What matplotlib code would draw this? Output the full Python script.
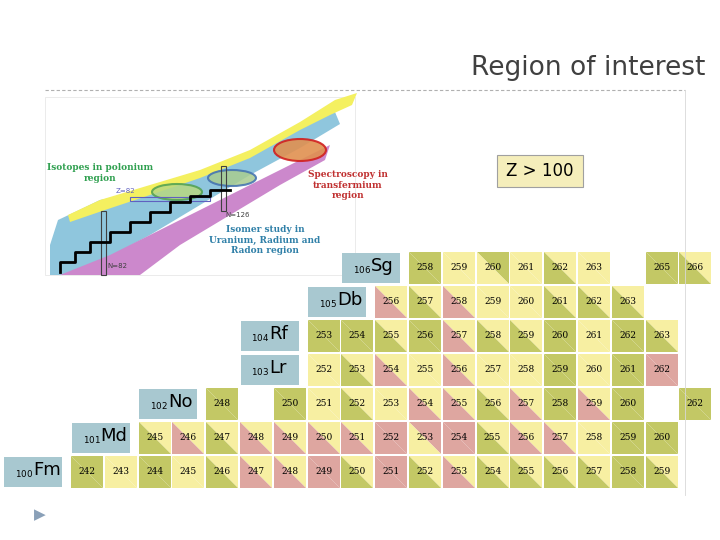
import matplotlib.pyplot as plt
from matplotlib.patches import Polygon, Rectangle, Ellipse

# nuclide chart data: element, Z, mass numbers, cell colours (upper-right / lower-left)
elements = ["Fm", "Md", "No", "Lr", "Rf", "Db", "Sg"]
z_values = [100, 101, 102, 103, 104, 105, 106]
masses = [
    [242, 243, 244, 245, 246, 247, 248, 249, 250, 251, 252, 253, 254, 255, 256, 257, 258, 259],
    [245, 246, 247, 248, 249, 250, 251, 252, 253, 254, 255, 256, 257, 258, 259, 260],
    [248, 250, 251, 252, 253, 254, 255, 256, 257, 258, 259, 260, 262],
    [252, 253, 254, 255, 256, 257, 258, 259, 260, 261, 262],
    [253, 254, 255, 256, 257, 258, 259, 260, 261, 262, 263],
    [256, 257, 258, 259, 260, 261, 262, 263],
    [258, 259, 260, 261, 262, 263, 265, 266],
]
colours = [
    "GG YY GG YY YG YP YP PP YG PP YG YP YG YG YG YG GG YG",
    "YG YP YG YP YP YP YP PP PY PP YG YP YP YY GG GG",
    "GG GG YY YG YY YP YP YG YP GG YP GG GG",
    "YY YG YP YY YP YY YY GG YY GG PP",
    "GG GG YG GG YP YG YG GG YY GG YG",
    "YP YG YP YY YY YG YG YG",
    "GG YY GY YY YG YY GG YG",
]
palette = {"Y": "#f7efa2", "G": "#c3c865", "P": "#dea6a0"}

fig = plt.figure(figsize=(7.2, 5.4), dpi=100)
ax = fig.add_axes([0, 0, 1, 1])
ax.set_xlim(0, 720)
ax.set_ylim(540, 0)
ax.axis("off")

# slide header
ax.text(705, 68, "Region of interest", ha="right", va="center", fontsize=19, color="#404040")
ax.plot([45, 685], [90, 90], ls=(0, (3, 2)), color="#b0b0b0", lw=0.8)
ax.plot([685, 685], [90, 495], color="#d8d8d8", lw=0.6)
ax.text(40, 515, "\u25B6", fontsize=11, color="#8aa0b8", ha="center", va="center")

# schematic nuclide chart (top left)
ax.add_patch(Rectangle((45, 97), 310, 178, fc="white", ec="#e8e8e8", lw=0.6))
# blue body
ax.add_patch(Polygon([(50, 245), (58, 220), (75, 212), (100, 200), (150, 190), (200, 176), (250, 155),
                      (300, 128), (335, 112), (340, 124), (300, 148), (250, 175), (200, 205),
                      (150, 235), (100, 262), (70, 275), (50, 275)], fc="#8fc6dd", ec="none"))
# yellow top edge
ax.add_patch(Polygon([(68, 215), (100, 200), (150, 185), (200, 170), (250, 150), (300, 122), (335, 100),
                      (357, 93), (352, 105), (330, 115), (300, 130), (250, 158), (200, 178),
                      (150, 195), (105, 210), (70, 222)], fc="#f4f060", ec="none"))
# pink lower edge
ax.add_patch(Polygon([(60, 275), (110, 255), (160, 230), (210, 205), (260, 180), (310, 155), (330, 145),
                      (325, 160), (280, 185), (230, 215), (180, 245), (140, 275)], fc="#cc88cc", ec="none"))
ax.step([60, 75, 90, 110, 130, 150, 170, 190, 210, 230], [272, 262, 252, 242, 232, 222, 212, 202, 196, 190],
        color="black", lw=2)
ax.add_patch(Ellipse((177, 192), 50, 16, fc="#b8d880", ec="#50a050", lw=1.5, alpha=0.85))
ax.add_patch(Ellipse((232, 178), 48, 16, fc="#a8cc90", ec="#4070b0", lw=1.5, alpha=0.85))
ax.add_patch(Ellipse((300, 150), 52, 22, fc="#e09050", ec="#d02020", lw=1.5, alpha=0.9))
ax.add_patch(Rectangle((130, 197), 80, 4, fc="none", ec="#6060c0", lw=0.8))
ax.add_patch(Rectangle((221, 166), 5, 45, fc="none", ec="#404040", lw=0.8))
ax.add_patch(Rectangle((101, 211), 5, 64, fc="none", ec="#404040", lw=0.8))
ax.text(100, 173, "Isotopes in polonium\nregion", color="#30a050", fontsize=6.5, fontweight="bold",
        family="DejaVu Serif", ha="center", va="center")
ax.text(348, 185, "Spectroscopy in\ntransfermium\nregion", color="#c03030", fontsize=6.5,
        fontweight="bold", family="DejaVu Serif", ha="center", va="center")
ax.text(265, 240, "Isomer study in\nUranium, Radium and\nRadon region", color="#3080a8", fontsize=6.5,
        fontweight="bold", family="DejaVu Serif", ha="center", va="center")
ax.text(125, 193, "Z=82", fontsize=5, color="#6060c0", ha="center")
ax.text(238, 217, "N=126", fontsize=5, color="#404040", ha="center")
ax.text(117, 268, "N=82", fontsize=5, color="#404040", ha="center")

# Z > 100 label
ax.add_patch(Rectangle((497, 155), 86, 32, fc="#f5eebb", ec="#a0a0a0", lw=0.8))
ax.text(540, 171, "Z > 100", fontsize=12, ha="center", va="center")

# nuclide cells
x0, y0, step, size = 87, 472, 33.8, 32
for el, z, row, cols in zip(elements, z_values, masses, colours):
    yc = y0 - (z - 100) * 34
    for a, c in zip(row, cols.split()):
        xc = x0 + (a - z - 142) * step
        l, r, t, b = xc - size / 2, xc + size / 2, yc - size / 2, yc + size / 2
        ax.add_patch(Polygon([(l, t), (r, t), (r, b)], fc=palette[c[0]], ec="none"))
        ax.add_patch(Polygon([(l, t), (l, b), (r, b)], fc=palette[c[1]], ec="none"))
        ax.text(xc, yc, str(a), fontsize=6.5, family="DejaVu Serif", ha="center", va="center")
    # element label box
    first = x0 + (row[0] - z - 142) * step - size / 2 - 9
    ax.add_patch(Rectangle((first - 58, yc - 15), 58, 30, fc="#a8c8d0", ec="none"))
    ax.text(first - 29, yc + 2, r"$_{%d}$" % z, fontsize=9, ha="right", va="center")
    ax.text(first - 29, yc - 2, el, fontsize=13, ha="left", va="center")

fig.savefig("out.png", dpi=100)
